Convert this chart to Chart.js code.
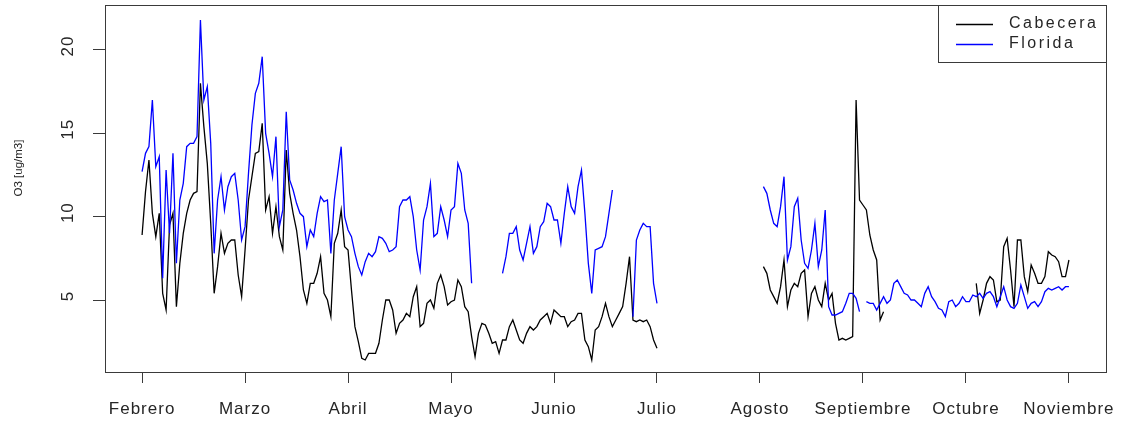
<!DOCTYPE html>
<html>
<head>
<meta charset="utf-8">
<script src="https://cdn.jsdelivr.net/npm/chart.js@4.4.1/dist/chart.umd.min.js"></script>
<style>
  html, body { margin: 0; padding: 0; background: #fff; }
</style>
</head>
<body>
<canvas id="o3Chart" width="1121" height="421"></canvas>
<script>
// x = day index from 1 Feb, one tick label every 30 days
const months = ['Febrero', 'Marzo', 'Abril', 'Mayo', 'Junio', 'Julio', 'Agosto', 'Septiembre', 'Octubre', 'Noviembre'];
const monthTicks = [0, 30, 60, 90, 120, 150, 180, 210, 240, 270];
const yTicks = [5, 10, 15, 20];

// daily O3 [ug/m3], null = no data
const cabecera = [
  8.9, 11.5, 13.4, 10.2, 8.8, 10.2, 5.4, 4.4, 9.5, 10.2,
  4.6, 7.2, 9.0, 10.2, 11.0, 11.4, 11.5, 18.0, 15.4, 13.2,
  9.6, 5.4, 7.0, 9.0, 7.8, 8.4, 8.6, 8.6, 6.5, 5.2,
  8.0, 11.0, 12.4, 13.8, 13.9, 15.6, 10.4, 11.2, 9.0, 10.6,
  8.8, 8.0, 14.0, 11.4, 10.2, 9.2, 7.6, 5.6, 4.8, 6.0,
  6.0, 6.6, 7.6, 5.4, 5.0, 4.0, 8.4, 9.0, 10.4, 8.2,
  8.0, 5.6, 3.4, 2.5, 1.5, 1.4, 1.8, 1.8, 1.8, 2.4,
  3.8, 5.0, 5.0, 4.4, 3.0, 3.6, 3.8, 4.2, 4.0, 5.2,
  5.8, 3.4, 3.6, 4.8, 5.0, 4.5, 6.0, 6.5, 5.8, 4.7,
  4.9, 5.0, 6.2, 5.8, 4.6, 4.3, 2.8, 1.6, 3.0, 3.6,
  3.5, 3.0, 2.4, 2.5, 1.8, 2.6, 2.6, 3.4, 3.8, 3.2,
  2.6, 2.4, 3.0, 3.4, 3.2, 3.4, 3.8, 4.0, 4.2, 3.6,
  4.4, 4.2, 4.0, 4.0, 3.4, 3.7, 3.8, 4.2, 4.2, 2.6,
  2.2, 1.4, 3.2, 3.4, 4.0, 4.8, 4.0, 3.4, 3.8, 4.2,
  4.6, 6.0, 7.6, 3.8, 3.7, 3.8, 3.7, 3.8, 3.4, 2.6,
  2.1, null, null, null, null, null, null, null, null, null,
  null, null, null, null, null, null, null, null, null, null,
  null, null, null, null, null, null, null, null, null, null,
  null, 7.0, 6.6, 5.6, 5.2, 4.8, 5.8, 7.4, 4.6, 5.6,
  6.0, 5.8, 6.6, 6.8, 4.0, 5.4, 5.8, 5.0, 4.6, 6.0,
  5.0, 5.4, 3.6, 2.6, 2.7, 2.6, 2.7, 2.8, 17.0, 11.0,
  10.7, 10.4, 8.9, 8.0, 7.4, 3.8, 4.3, null, null, null,
  null, null, null, null, null, null, null, null, null, null,
  null, null, null, null, null, null, null, null, null, null,
  null, null, null, 6.0, 4.2, 5.0, 6.0, 6.4, 6.2, 4.9,
  5.0, 8.2, 8.7, 6.8, 4.6, 8.6, 8.6, 6.4, 5.5, 7.1,
  6.6, 6.0, 6.0, 6.4, 7.9, 7.7, 7.6, 7.3, 6.4, 6.4,
  7.4
];

const florida = [
  12.7, 13.8, 14.2, 17.0, 13.0, 13.6, 6.3, 12.8, 9.0, 13.8,
  7.2, 11.0, 12.0, 14.2, 14.4, 14.4, 14.8, 21.8, 17.0, 17.8,
  14.4, 7.8, 11.0, 12.4, 10.4, 11.8, 12.4, 12.6, 11.0, 8.6,
  9.4, 12.6, 15.5, 17.4, 18.0, 19.6, 15.0, 13.8, 12.4, 14.8,
  9.4, 10.4, 16.3, 12.2, 11.6, 10.8, 10.2, 10.0, 8.2, 9.2,
  8.8, 10.2, 11.2, 10.9, 11.0, 7.8, 11.0, 12.6, 14.2, 10.0,
  9.2, 8.8, 7.8, 7.0, 6.5, 7.3, 7.8, 7.6, 7.9, 8.8,
  8.7, 8.4, 7.9, 8.0, 8.2, 10.6, 11.0, 11.0, 11.2, 10.0,
  8.0, 6.8, 9.8, 10.6, 12.0, 8.8, 9.0, 10.6, 9.8, 8.8,
  10.4, 10.6, 13.2, 12.6, 10.4, 9.6, 6.0, null, null, null,
  null, null, null, null, null, 6.6, 7.6, 9.0, 9.0, 9.4,
  8.0, 7.4, 8.4, 9.4, 7.8, 8.2, 9.4, 9.7, 10.8, 10.6,
  9.8, 9.8, 8.4, 10.2, 11.8, 10.6, 10.2, 11.8, 12.8, 10.2,
  7.2, 5.4, 8.0, 8.1, 8.2, 8.8, 10.2, 11.6, null, null,
  null, null, null, 4.0, 8.6, 9.2, 9.6, 9.4, 9.4, 6.0,
  4.8, null, null, null, null, null, null, null, null, null,
  null, null, null, null, null, null, null, null, null, null,
  null, null, null, null, null, null, null, null, null, null,
  null, 11.8, 11.4, 10.4, 9.6, 9.4, 10.6, 12.4, 7.4, 8.2,
  10.6, 11.1, 8.6, 7.2, 6.9, 8.0, 9.6, 7.0, 8.0, 10.4,
  4.6, 4.1, 4.1, 4.2, 4.3, 4.8, 5.4, 5.4, 5.1, 4.3,
  null, 4.9, 4.8, 4.8, 4.4, 4.8, 5.2, 4.8, 5.0, 6.0,
  6.2, 5.8, 5.4, 5.3, 5.0, 5.0, 4.8, 4.6, 5.4, 5.8,
  5.2, 4.9, 4.5, 4.4, 4.0, 4.9, 5.0, 4.6, 4.8, 5.2,
  4.9, 4.9, 5.3, 5.2, 5.4, 5.1, 5.4, 5.5, 5.2, 4.6,
  5.2, 5.8, 5.0, 4.6, 4.5, 4.8, 5.9, 5.2, 4.5, 4.8,
  4.9, 4.6, 4.9, 5.5, 5.7, 5.6, 5.7, 5.8, 5.6, 5.8,
  5.8
];

const FONT = '"Liberation Sans", Arial, sans-serif';
const TEXT = '#262626';
const FRAME = '#3a3a3a';

function toPoints(arr) {
  return arr.map((v, i) => ({ x: i, y: v }));
}

// box round the plot, vertical y labels, y title and the legend (R style)
const rFrame = {
  id: 'rFrame',
  beforeDraw(chart) {
    chart.ctx.letterSpacing = '1px';
  },
  afterDraw(chart) {
    const { ctx, chartArea: a } = chart;
    const ys = chart.scales.y;
    ctx.save();
    ctx.strokeStyle = FRAME;
    ctx.lineWidth = 1;
    ctx.strokeRect(Math.round(a.left) + 0.5, Math.round(a.top) + 0.5,
      Math.round(a.right - a.left), Math.round(a.bottom - a.top));

    ctx.fillStyle = TEXT;
    ctx.textAlign = 'center';
    ctx.textBaseline = 'middle';
    ctx.font = '17px ' + FONT;
    ctx.letterSpacing = '1px';
    yTicks.forEach(v => {
      ctx.save();
      ctx.translate(68, ys.getPixelForValue(v) - 4);
      ctx.rotate(-Math.PI / 2);
      ctx.fillText(String(v), 0, 0);
      ctx.restore();
    });

    ctx.save();
    ctx.font = '11.5px ' + FONT;
    ctx.letterSpacing = '0px';
    ctx.translate(19, 168);
    ctx.rotate(-Math.PI / 2);
    ctx.fillText('O3 [ug/m3]', 0, 0);
    ctx.restore();

    const lw = 168, lh = 57;
    const lx = Math.round(a.right) - lw, ly = Math.round(a.top);
    ctx.strokeStyle = FRAME;
    ctx.strokeRect(lx + 0.5, ly + 0.5, lw, lh);
    ctx.font = '16px ' + FONT;
    ctx.letterSpacing = '2.5px';
    ctx.textAlign = 'left';
    chart.data.datasets.forEach((ds, i) => {
      const y = ly + 19 + i * 20;
      ctx.strokeStyle = ds.borderColor;
      ctx.lineWidth = 1.3;
      ctx.beginPath();
      ctx.moveTo(lx + 18, y + 0.5);
      ctx.lineTo(lx + 55, y + 0.5);
      ctx.stroke();
      ctx.fillStyle = TEXT;
      ctx.fillText(ds.label, lx + 71, y);
    });
    ctx.restore();
  }
};

new Chart(document.getElementById('o3Chart').getContext('2d'), {
  type: 'line',
  data: {
    datasets: [
      {
        label: 'Cabecera',
        data: toPoints(cabecera),
        borderColor: '#000000',
        borderWidth: 1.3,
        pointRadius: 0,
        tension: 0,
        spanGaps: false,
        order: 1
      },
      {
        label: 'Florida',
        data: toPoints(florida),
        borderColor: '#0000ff',
        borderWidth: 1.3,
        pointRadius: 0,
        tension: 0,
        spanGaps: false,
        order: 0
      }
    ]
  },
  options: {
    responsive: false,
    animation: false,
    layout: { padding: { top: 5, right: 15, left: 0, bottom: 0 } },
    plugins: {
      legend: { display: false },
      tooltip: { enabled: false }
    },
    scales: {
      x: {
        type: 'linear',
        min: -10.8,
        max: 280.8,
        afterBuildTicks: s => { s.ticks = monthTicks.map(v => ({ value: v })); },
        afterFit: s => {
          s.height = 49;
          s.paddingLeft = 0;
          s.paddingRight = 0;
        },
        border: { display: false },
        grid: { drawOnChartArea: false, drawTicks: true, tickLength: 11, color: FRAME },
        ticks: {
          autoSkip: false,
          maxRotation: 0,
          minRotation: 0,
          padding: 16,
          color: TEXT,
          font: { family: FONT, size: 17 },
          callback: (v, i) => months[i]
        }
      },
      y: {
        min: 0.68,
        max: 22.7,
        afterBuildTicks: s => { s.ticks = yTicks.map(v => ({ value: v })); },
        afterFit: s => {
          s.width = 105;
          s.paddingTop = 0;
          s.paddingBottom = 0;
        },
        border: { display: false },
        grid: { drawOnChartArea: false, drawTicks: true, tickLength: 12, color: FRAME },
        ticks: { display: false }
      }
    }
  },
  plugins: [rFrame]
});
</script>
</body>
</html>
